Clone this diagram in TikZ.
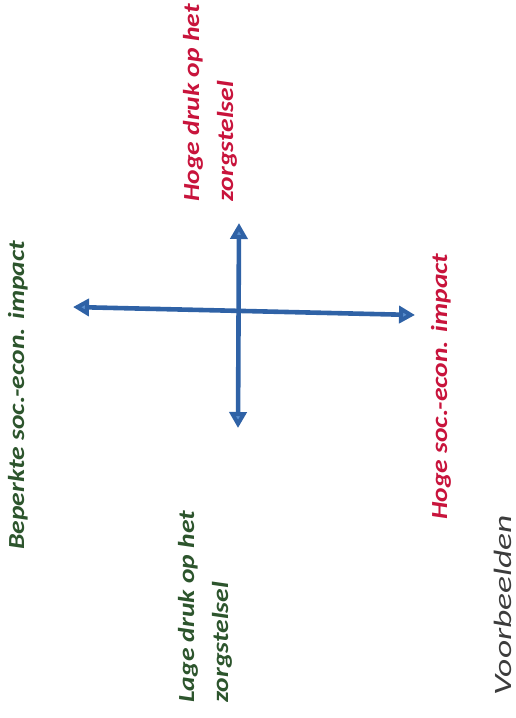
\documentclass[tikz,border=0pt]{standalone}
\usepackage{fontspec}
\usepackage{tikz}
\usetikzlibrary{arrows.meta,positioning}
\newfontfamily\lblfont[FakeStretch=1.2]{Carlito}
\newfontfamily\notefont[FakeStretch=1.42]{Carlito}
\definecolor{axisBlue}{HTML}{2F62A6}
\definecolor{axisHead}{HTML}{5A8FCF}
\definecolor{pressRed}{HTML}{C8143C}
\definecolor{pressGreen}{HTML}{2D552D}
\definecolor{noteGray}{HTML}{3C3C3C}

\begin{document}
\begin{tikzpicture}[
  x=1pt, y=-1pt,
  every node/.style={inner sep=0pt},
  lbl/.style   ={rotate=90,align=left,font=\lblfont\fontsize{23}{34}\selectfont\bfseries\itshape},
  hilbl/.style ={lbl,text=pressRed},
  lolbl/.style ={lbl,text=pressGreen},
  notelbl/.style ={rotate=90,text=noteGray,font=\notefont\fontsize{25}{30}\selectfont\itshape},
  axisline/.style ={{Triangle[length=16pt,width=17pt,fill=axisHead]}-{Triangle[length=16pt,width=17pt,fill=axisHead]},
                    draw=axisBlue,line width=4.6pt}
]
\useasboundingbox (0,0) rectangle (516,718);

% axis ends
\coordinate (west)  at (73,307);
\coordinate (east)  at (415,315);
\coordinate (north) at (239,223);
\coordinate (south) at (238,428);

% axes
\draw[axisline] (west)  -- (east);
\draw[axisline] (north) -- (south);

% pressure labels
\node[hilbl,anchor=west] (hidruk) at (210,202) {Hoge druk op het\\zorgstelsel};
\node[lolbl,anchor=west] (lodruk) at (205,703) {Lage druk op het\\zorgstelsel};

% impact labels
\node[lolbl,anchor=base west] (loimpact) at (24,550) {Beperkte soc.-econ. impact};
\node[hilbl,anchor=base west] (hiimpact) at (447,520) {Hoge soc.-econ. impact};

% note
\node[notelbl,anchor=base west] (examples) at (511,696) {Voorbeelden};
\end{tikzpicture}
\end{document}
